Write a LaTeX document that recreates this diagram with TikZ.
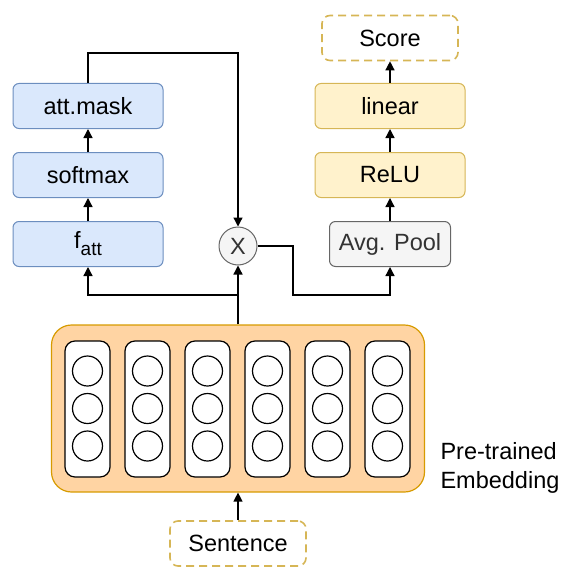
\documentclass[tikz,border=0pt]{standalone}
\usepackage{fontspec}
\setmainfont{Liberation Sans}
\usetikzlibrary{arrows.meta,positioning}
\definecolor{azul}{HTML}{DAE8FC}
\definecolor{azulborde}{HTML}{6C8EBF}
\definecolor{amarillo}{HTML}{FFF2CC}
\definecolor{amarilloborde}{HTML}{D6B656}
\definecolor{gris}{HTML}{F5F5F5}
\definecolor{grisoscuro}{HTML}{666666}
\definecolor{textogris}{HTML}{333333}
\definecolor{naranja}{RGB}{255,212,163}
\definecolor{naranjaborde}{HTML}{D79B00}
\tikzset{
  texto/.style={font=\fontsize{23.5}{29}\selectfont},
  cajaazul/.style={texto,draw=azulborde,fill=azul,rounded corners=6pt,line width=1pt,minimum width=150pt,minimum height=45pt},
  cajaamarilla/.style={cajaazul,draw=amarilloborde,fill=amarillo},
  cajagris/.style={cajaazul,draw=grisoscuro,fill=gris,text=textogris,minimum width=121pt},
  cajapunteada/.style={texto,draw=amarilloborde,dashed,dash pattern=on 8pt off 5pt,rounded corners=8pt,line width=1.6pt,minimum width=136pt,minimum height=45pt},
  columna/.style={draw,fill=white,rounded corners=10pt,line width=1.2pt,minimum width=45pt,minimum height=136pt},
  neurona/.style={circle,draw,fill=white,line width=1.2pt,minimum size=30pt,inner sep=0pt},
  flecha/.style={-{Triangle[length=9pt,width=9pt]},line width=1.3pt},
}
\begin{document}
\begin{tikzpicture}[x=1pt,y=-1pt]
\useasboundingbox (0,0) rectangle (569,567);
% rama de atencion
\node[cajaazul] (mask) at (88,106) {att.mask};
\node[cajaazul,below=23pt of mask] (softmax) {softmax};
\node[cajaazul,below=23pt of softmax] (fatt) {f\raisebox{-0.3em}{\fontsize{19}{19}\selectfont att}};
% rama de salida
\node[cajapunteada] (score) at (390,38) {Score};
\node[cajaamarilla] (linear) at (390,106) {linear};
\node[cajaamarilla,below=23pt of linear] (relu) {ReLU};
\node[cajagris,below=23pt of relu] (pool) {Avg. Pool};
\node[texto,circle,draw=grisoscuro,fill=gris,text=textogris,line width=1pt,minimum size=38pt,inner sep=0pt] (mult) at (238,246) {X};
% embedding
\node[draw=naranjaborde,fill=naranja,rounded corners=20pt,line width=1.2pt,minimum width=373pt,minimum height=167pt] (emb) at (238,408.5) {};
\foreach \i in {0,...,5} {
  \node[columna] (col\i) at (87.5+60*\i,409) {};
  \foreach \j in {0,1,2}
    \node[neurona] (n\i\j) at (87.5+60*\i,371+37.5*\j) {};
}
\node[texto,anchor=west,align=left] (etiqueta) at (437,468) {Pre-trained\\Embedding};
\node[cajapunteada] (sentence) at (238,543.5) {Sentence};
% conexiones
\coordinate (arriba) at (88,53);
\coordinate (cruce) at (238,295);
\coordinate (codo) at (293,295);
\draw[flecha] (sentence.north) -- (emb.south);
\draw[flecha] (emb.north) -- (mult.south);
\draw[flecha] (cruce) -| (fatt.south);
\draw[flecha] (fatt.north) -- (softmax.south);
\draw[flecha] (softmax.north) -- (mask.south);
\draw[flecha] (mask.north) -- (arriba) -| (mult.north);
\draw[flecha] (mult.east) -| (codo) -| (pool.south);
\draw[flecha] (pool.north) -- (relu.south);
\draw[flecha] (relu.north) -- (linear.south);
\draw[flecha] (linear.north) -- (score.south);
\end{tikzpicture}
\end{document}
